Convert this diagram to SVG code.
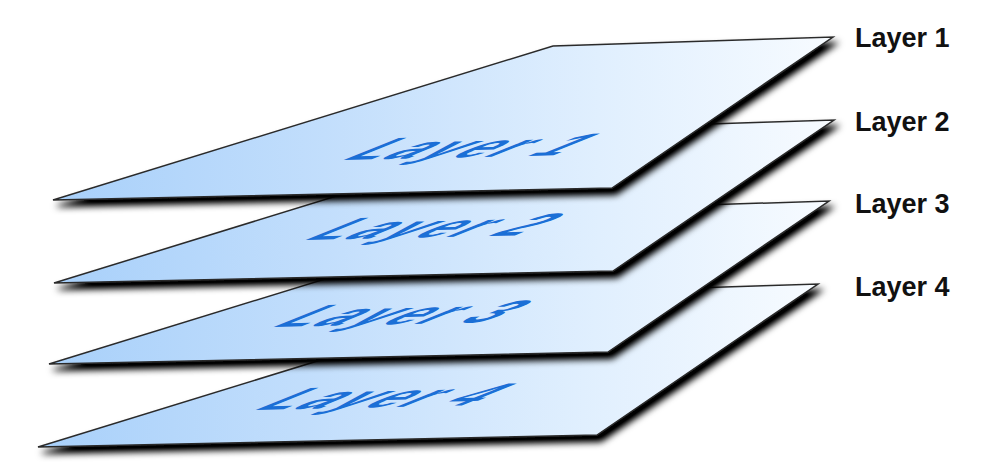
<svg xmlns="http://www.w3.org/2000/svg" width="1002" height="472" viewBox="0 0 1002 472">
  <defs>
    <linearGradient id="planeFill" gradientUnits="userSpaceOnUse" x1="50" y1="0" x2="833" y2="0">
      <stop offset="0" stop-color="#a8d0fa"/>
      <stop offset="0.35" stop-color="#c2defc"/>
      <stop offset="0.7" stop-color="#e0effe"/>
      <stop offset="1" stop-color="#f7fbff"/>
    </linearGradient>
    <filter id="shadow" x="-10%" y="-20%" width="125%" height="150%">
      <feGaussianBlur in="SourceAlpha" stdDeviation="3.5" result="b"/>
      <feOffset in="b" dx="4" dy="6" result="o"/>
      <feComponentTransfer in="o" result="s">
        <feFuncA type="linear" slope="1.15"/>
      </feComponentTransfer>
      <feMerge>
        <feMergeNode in="s"/>
        <feMergeNode in="SourceGraphic"/>
      </feMerge>
    </filter>
    <polygon id="plane" points="53,200 553,46 833,37 612,188"/>
  </defs>
  <style>
    .plane { fill: url(#planeFill); stroke: #2b2b2b; stroke-width: 1.5; stroke-linejoin: miter; filter: url(#shadow); }
    .ptext { font-family: "Liberation Sans", Arial, sans-serif; font-weight: bold; font-size: 40px; letter-spacing: 3px; fill: #1b6fd6; }
    .label { font-family: "Liberation Sans", Arial, sans-serif; font-weight: bold; font-size: 27px; fill: #111111; }
  </style>
  <rect width="1002" height="472" fill="#ffffff"/>

  <g id="layer4">
    <use href="#plane" class="plane" transform="translate(-15,247)"/>
    <text class="ptext" transform="matrix(1.36,-0.03,-2.0,0.8,252,410)">Layer 4</text>
    <text class="label" x="855" y="296">Layer 4</text>
  </g>

  <g id="layer3">
    <use href="#plane" class="plane" transform="translate(-4,164)"/>
    <text class="ptext" transform="matrix(1.36,-0.03,-2.0,0.8,270,327)">Layer 3</text>
    <text class="label" x="855" y="213">Layer 3</text>
  </g>

  <g id="layer2">
    <use href="#plane" class="plane" transform="translate(1,83)"/>
    <text class="ptext" transform="matrix(1.36,-0.03,-2.0,0.8,302,240)">Layer 2</text>
    <text class="label" x="855" y="131">Layer 2</text>
  </g>

  <g id="layer1">
    <use href="#plane" class="plane"/>
    <text class="ptext" transform="matrix(1.36,-0.03,-2.0,0.8,340,160)">Layer 1</text>
    <text class="label" x="855" y="47">Layer 1</text>
  </g>

  <g id="connectors"/>
</svg>
